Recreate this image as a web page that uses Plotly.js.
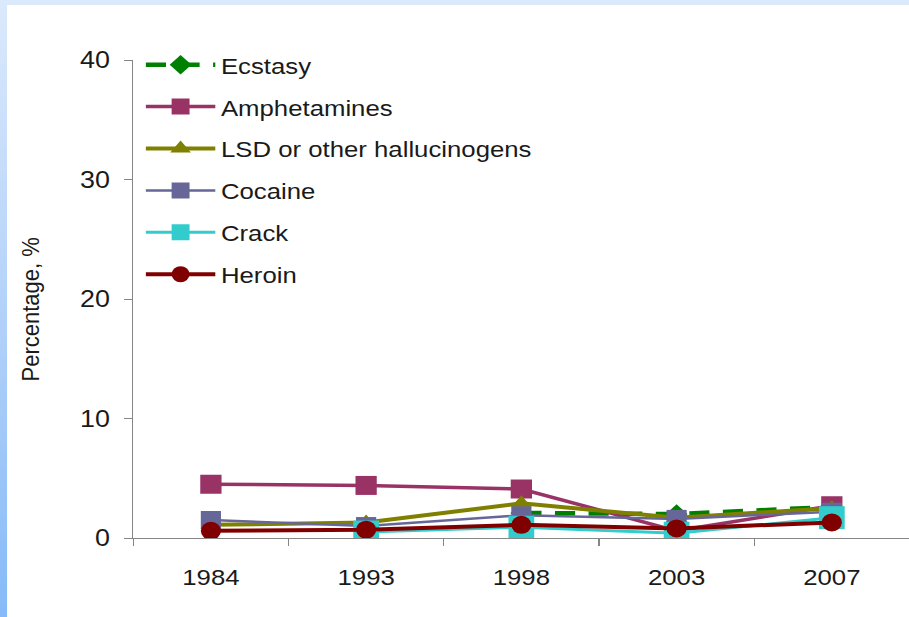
<!DOCTYPE html>
<html>
<head>
<meta charset="utf-8">
<script src="https://cdn.plot.ly/plotly-3.0.1.min.js"></script>
<style>
  html, body { margin: 0; padding: 0; background: #ffffff; overflow: hidden; }
  body { width: 909px; height: 617px; position: relative; }
  #topband { position: absolute; left: 0; top: 0; width: 909px; height: 5px; background: #dbe9fc; }
  #sideband { position: absolute; left: 0; top: 0; width: 7px; height: 617px;
              background: linear-gradient(to bottom, #dbe9fc 0%, #b3d2f9 50%, #86baf8 100%); }
  /* the chart is laid out narrower and widened with a horizontal scale */
  #chart { position: absolute; left: 0; top: 0; width: 812px; height: 617px;
           transform: scaleX(1.12); transform-origin: 0 0; }
</style>
</head>
<body>
<div id="topband"></div>
<div id="sideband"></div>
<div id="chart"></div>
<script>
// Survey years (category axis)
const years = ['1984', '1993', '1998', '2003', '2007'];

// Percentage reporting use, by drug
const ecstasy      = [null, null, 2.1, 2.0, 2.6];
const amphetamines = [4.5, 4.4, 4.1, 0.6, 2.7];
const lsd          = [1.1, 1.3, 2.9, 1.7, 2.5];
const cocaine      = [1.5, 1.0, 1.9, 1.6, 2.2];
const crack        = [null, 0.5, 0.9, 0.4, 1.7];
const heroin       = [0.6, 0.7, 1.1, 0.8, 1.3];

const yTicks = [0, 10, 20, 30, 40];

const FONT = 'Liberation Sans, Arial, sans-serif';
const TEXT = '#1a1a1a';

function series(name, values, color, width, symbol, size, dash) {
  return {
    type: 'scatter',
    mode: 'lines+markers',
    name: name,
    x: years,
    y: values,
    legendgroup: name,
    line: { color: color, width: width, dash: dash || 'solid' },
    marker: { symbol: symbol, size: size, color: color, line: { width: 0 } },
    connectgaps: false,
    hoverinfo: 'x+y+name'
  };
}

const traces = [
  series('Ecstasy', ecstasy, '#008000', 4.5, 'diamond', 15, '18px,12px'),
  series('Amphetamines', amphetamines, '#993366', 3.5, 'square', 19),
  series('LSD or other hallucinogens', lsd, '#808000', 4, 'triangle-up', 16),
  series('Cocaine', cocaine, '#666699', 2.5, 'square', 18),
  series('Crack', crack, '#33CCCC', 3, 'square', 23),
  series('Heroin', heroin, '#800000', 4, 'circle', 18)
];

const layout = {
  width: 812,
  height: 617,
  margin: { l: 119, r: 0, t: 60, b: 79 },
  paper_bgcolor: 'rgba(0,0,0,0)',
  plot_bgcolor: 'rgba(0,0,0,0)',
  font: { family: FONT, color: TEXT, size: 23 },
  showlegend: true,
  legend: {
    x: 0.009, y: 1.035, xanchor: 'left', yanchor: 'top',
    bgcolor: 'rgba(0,0,0,0)', borderwidth: 0,
    font: { family: FONT, size: 23, color: TEXT },
    itemwidth: 62,
    tracegroupgap: 9,
    traceorder: 'grouped'
  },
  xaxis: {
    type: 'category',
    categoryorder: 'array',
    categoryarray: years,
    range: [-0.5, 4.5],
    showline: true, linecolor: '#868686', linewidth: 1,
    ticks: 'outside', ticklen: 7, tickcolor: '#868686', tickwidth: 1,
    tickson: 'boundaries',
    showgrid: false, zeroline: false,
    tickfont: { family: FONT, size: 23, color: TEXT },
    ticklabelstandoff: 18,
    fixedrange: true
  },
  yaxis: {
    range: [0, 40],
    tickvals: yTicks,
    ticktext: yTicks.map(String),
    showline: true, linecolor: '#868686', linewidth: 1,
    ticks: 'outside', ticklen: 7, tickcolor: '#868686', tickwidth: 1,
    showgrid: false, zeroline: false,
    tickfont: { family: FONT, size: 24, color: TEXT },
    ticklabelstandoff: 8,
    fixedrange: true
  },
  annotations: [{
    text: 'Percentage, %',
    xref: 'paper', yref: 'paper',
    x: -0.132, y: 0.477,
    xanchor: 'center', yanchor: 'middle',
    textangle: -90,
    showarrow: false,
    font: { family: FONT, size: 22, color: TEXT }
  }]
};

Plotly.newPlot('chart', traces, layout, { displayModeBar: false, staticPlot: true });
</script>
</body>
</html>
